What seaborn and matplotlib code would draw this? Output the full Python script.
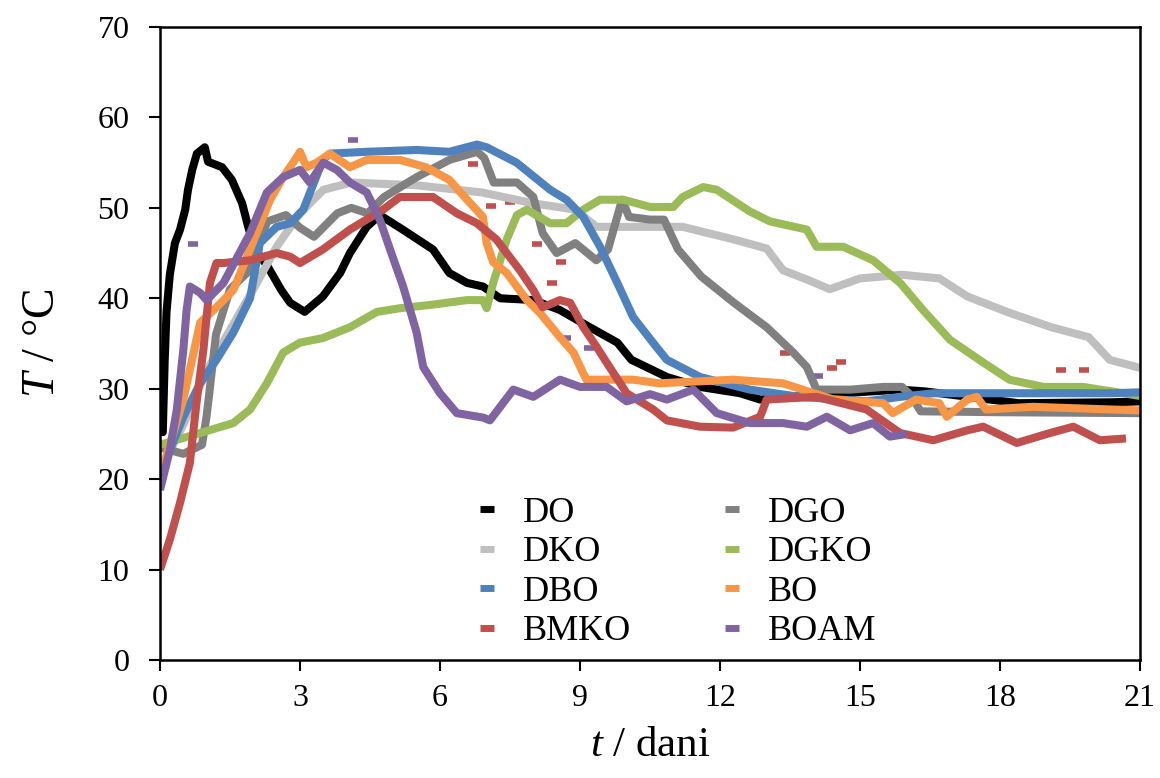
import numpy as np
import pandas as pd
import matplotlib
matplotlib.use("Agg")
import matplotlib.pyplot as plt
from matplotlib.lines import Line2D
import seaborn as sns

# Compost temperature over time, one curve per mixture
do_t = [0.0, 0.06, 0.1, 0.14, 0.21, 0.26, 0.32, 0.43, 0.54, 0.6, 0.69, 0.79, 0.96,
        1.03, 1.33, 1.54, 1.76, 1.89, 2.04, 2.31, 2.6, 2.79, 3.1, 3.49, 3.86, 4.07,
        4.43, 4.71, 5.2, 5.85, 6.2, 6.58, 6.92, 7.29, 8.0, 8.57, 9.21, 9.8, 10.1,
        10.86, 11.57, 12.43, 12.86, 14.0, 15.86, 16.4, 18.4, 20.4, 21.0]
do_T = [25.2, 25.2, 33.0, 38.5, 42.6, 44.2, 46.1, 47.6, 49.8, 52.0, 54.2, 56.0, 56.7,
        55.1, 54.5, 53.1, 50.5, 47.9, 45.4, 43.5, 40.9, 39.5, 38.5, 40.2, 42.8, 45.0,
        47.9, 49.2, 47.6, 45.4, 42.8, 41.7, 41.3, 40.0, 39.8, 38.7, 36.8, 35.1, 33.2,
        31.3, 30.2, 29.5, 28.8, 29.3, 29.9, 29.7, 28.4, 28.5, 28.6]

dgo_t = [0.0, 0.5, 0.9, 1.0, 1.2, 1.5, 1.9, 2.3, 2.7, 3.0, 3.3, 3.8, 4.1, 4.45, 4.8,
         5.5, 6.2, 6.8, 6.95, 7.15, 7.65, 8.0, 8.2, 8.5, 8.9, 9.35, 9.6, 9.9, 10.05,
         10.5, 10.8, 11.1, 11.6, 12.3, 13.0, 13.57, 13.86, 14.07, 14.8, 15.5, 15.9,
         16.1, 16.3, 18.0, 21.0]
dgo_T = [23.5, 22.8, 23.8, 27.0, 36.0, 41.0, 43.0, 48.5, 49.2, 47.8, 46.8, 49.4, 50.0,
         49.4, 51.2, 53.4, 55.3, 56.2, 55.5, 52.8, 52.8, 51.2, 47.2, 45.0, 46.1, 44.2,
         45.4, 50.9, 49.0, 48.7, 48.7, 45.4, 42.4, 39.5, 36.8, 34.0, 32.4, 29.9, 29.9,
         30.2, 30.2, 29.2, 27.5, 27.4, 27.3]

dko_t = [0.0, 0.5, 1.0, 1.5, 2.0, 2.5, 3.0, 3.5, 4.1, 5.5, 6.9, 8.0, 8.9, 9.35, 11.2,
         12.3, 13.0, 13.35, 13.9, 14.35, 15.0, 15.9, 16.7, 17.3, 18.2, 19.1, 19.9,
         20.35, 21.0]
dko_T = [21.0, 26.0, 32.0, 36.5, 41.0, 45.7, 49.4, 52.0, 52.8, 52.5, 51.7, 50.5, 49.8,
         47.9, 47.9, 46.5, 45.5, 43.1, 42.0, 41.0, 42.2, 42.6, 42.2, 40.2, 38.4, 36.8,
         35.7, 33.2, 32.3]

dgko_t = [0.0, 0.86, 1.57, 1.93, 2.29, 2.64, 3.0, 3.49, 4.07, 4.65, 5.14, 5.85, 6.58,
          6.92, 7.0, 7.14, 7.43, 7.65, 7.86, 8.36, 8.71, 9.07, 9.43, 9.93, 10.5, 11.0,
          11.2, 11.64, 11.93, 12.64, 13.07, 13.86, 14.07, 14.64, 15.28, 15.86, 16.35,
          16.93, 17.64, 18.2, 18.93, 19.78, 20.64, 21.0]
dgko_T = [23.8, 25.1, 26.2, 27.7, 30.6, 34.0, 35.1, 35.6, 36.8, 38.5, 38.9, 39.3, 39.8,
          39.8, 38.9, 41.7, 46.5, 49.2, 49.8, 48.3, 48.3, 49.8, 50.9, 50.9, 50.1, 50.1,
          51.2, 52.3, 52.0, 49.6, 48.5, 47.6, 45.7, 45.7, 44.2, 41.7, 38.7, 35.4, 32.9,
          31.0, 30.2, 30.2, 29.5, 29.2]

dbo_t = [0.0, 0.5, 0.86, 1.21, 1.57, 1.93, 2.14, 2.5, 2.79, 3.07, 3.49, 3.64, 4.43,
         5.5, 6.2, 6.79, 7.0, 7.64, 8.36, 8.71, 9.07, 9.43, 9.8, 10.14, 10.64, 10.86,
         11.57, 12.64, 13.7, 15.14, 15.86, 16.57, 20.4, 21.0]
dbo_T = [20.5, 26.9, 30.6, 33.2, 36.2, 40.0, 46.1, 47.9, 48.3, 49.8, 55.3, 56.0, 56.2,
         56.4, 56.2, 57.0, 56.7, 55.0, 52.0, 50.9, 49.0, 45.7, 41.7, 37.9, 34.6, 33.2,
         31.3, 29.9, 29.1, 28.6, 29.1, 29.5, 29.5, 29.6]

bo_t = [0.0, 0.5, 0.86, 1.21, 1.57, 1.93, 2.36, 2.64, 2.93, 3.0, 3.14, 3.36, 3.64,
        4.07, 4.43, 5.14, 5.7, 6.2, 6.58, 6.92, 7.0, 7.14, 7.43, 7.86, 8.14, 8.57, 8.86,
        9.07, 9.14, 10.14, 10.7, 12.28, 13.35, 14.43, 15.5, 15.7, 16.2, 16.7, 16.86,
        17.3, 17.5, 17.7, 18.7, 20.4, 21.0]
bo_T = [20.2, 28.8, 37.3, 39.0, 40.9, 45.4, 50.9, 53.4, 55.6, 56.2, 54.5, 55.0, 56.0,
        54.5, 55.3, 55.3, 54.5, 53.1, 50.9, 49.0, 46.1, 44.0, 42.8, 39.8, 38.4, 35.7,
        34.0, 31.7, 31.0, 31.0, 30.6, 31.0, 30.6, 28.8, 28.4, 27.3, 28.8, 28.4, 26.9,
        28.8, 29.1, 27.7, 28.0, 27.7, 27.6]

bmko_t = [0.0, 0.21, 0.43, 0.64, 0.79, 0.93, 1.07, 1.21, 1.36, 1.93, 2.5, 2.79, 3.0,
          3.49, 4.07, 4.78, 5.14, 5.85, 6.36, 6.79, 7.21, 7.43, 7.71, 8.0, 8.2, 8.57,
          8.79, 9.07, 9.36, 9.57, 10.0, 10.57, 10.86, 11.57, 12.28, 12.86, 13.0, 14.07,
          15.14, 15.86, 16.57, 17.3, 17.64, 18.36, 19.07, 19.57, 20.14, 20.7]
bmko_T = [10.0, 13.3, 17.4, 21.8, 28.8, 34.3, 41.7, 43.9, 43.9, 44.2, 45.0, 44.6, 43.9,
          45.4, 47.6, 49.8, 51.2, 51.2, 49.4, 48.3, 46.5, 45.0, 43.1, 40.9, 39.0, 39.8,
          39.5, 36.8, 34.6, 32.9, 29.5, 27.7, 26.5, 25.8, 25.7, 26.9, 28.8, 29.1, 27.7,
          25.1, 24.3, 25.4, 25.8, 24.0, 25.1, 25.8, 24.3, 24.5]

boam_t = [0.0, 0.21, 0.36, 0.5, 0.57, 0.64, 0.86, 1.0, 1.36, 1.93, 2.29, 2.64, 3.0,
          3.21, 3.5, 3.79, 4.07, 4.43, 4.71, 4.93, 5.21, 5.5, 5.64, 6.0, 6.36, 6.93,
          7.07, 7.57, 8.0, 8.57, 9.0, 9.57, 10.0, 10.5, 10.86, 11.43, 11.93, 12.64,
          13.35, 13.86, 14.29, 14.79, 15.28, 15.64, 16.0]
boam_T = [18.8, 23.2, 27.7, 34.3, 38.7, 41.3, 40.6, 39.8, 41.7, 47.2, 51.7, 53.4, 54.2,
          52.8, 55.0, 54.2, 52.8, 51.7, 48.7, 45.4, 41.3, 36.2, 32.4, 29.5, 27.3, 26.8,
          26.5, 29.9, 29.1, 31.0, 30.2, 30.2, 28.6, 29.4, 28.8, 29.9, 27.3, 26.2, 26.2,
          25.8, 26.9, 25.4, 26.2, 24.7, 25.0]

# Isolated stray readings
stray_red_t = [6.7, 7.1, 7.5, 8.08, 8.4, 8.6, 13.4, 14.4, 14.6, 19.3, 19.8]
stray_red_T = [54.9, 50.2, 50.6, 46.0, 41.7, 44.0, 33.9, 32.3, 33.0, 32.1, 32.1]
stray_purple_t = [0.71, 4.14, 8.7, 9.2, 14.1]
stray_purple_T = [46.0, 57.5, 35.6, 34.5, 31.4]

series = ["DO", "DKO", "DGO", "DGKO", "DBO", "BO", "BMKO", "BOAM"]
times = [do_t, dko_t, dgo_t, dgko_t, dbo_t, bo_t, bmko_t, boam_t]
temps = [do_T, dko_T, dgo_T, dgko_T, dbo_T, bo_T, bmko_T, boam_T]
colors = {"DO": "#000000", "DGO": "#808080", "DKO": "#bfbfbf", "DGKO": "#9bbb59",
          "DBO": "#4f81bd", "BO": "#f79646", "BMKO": "#c0504d", "BOAM": "#8064a2"}

frames = [pd.DataFrame({"t": t, "T": T, "mix": name})
          for name, t, T in zip(series, times, temps)]
df = pd.concat(frames, ignore_index=True)

sns.set_theme(style="white", rc={"text.color": "black", "axes.labelcolor": "black",
                                  "xtick.color": "black", "ytick.color": "black",
                                  "axes.edgecolor": "black"})
plt.rcParams["font.family"] = ["Liberation Serif", "DejaVu Serif"]
plt.rcParams["mathtext.fontset"] = "custom"
plt.rcParams["mathtext.rm"] = "Liberation Serif"
plt.rcParams["mathtext.it"] = "Liberation Serif:italic"

fig = plt.figure(figsize=(11.6, 7.78), dpi=100)
ax = fig.add_axes([160 / 1160, 118 / 778, 980 / 1160, 633 / 778])

for name in series:
    sub = df[df["mix"] == name]
    sns.lineplot(data=sub, x="t", y="T", color=colors[name], linewidth=5.8,
                 sort=False, estimator=None, ax=ax, legend=False,
                 solid_joinstyle="round", solid_capstyle="butt")

sns.scatterplot(x=stray_red_t, y=stray_red_T, color=colors["BMKO"], marker="_",
                s=60, linewidth=4, ax=ax, legend=False)
sns.scatterplot(x=stray_purple_t, y=stray_purple_T, color=colors["BOAM"], marker="_",
                s=60, linewidth=4, ax=ax, legend=False)

ax.set_xlim(0, 21)
ax.set_ylim(0, 70)
ax.set_xticks(np.arange(0, 22, 3))
ax.set_yticks(np.arange(0, 71, 10))
ax.tick_params(axis="both", direction="out", length=8, width=1.5, labelsize=23,
               colors="black", bottom=True, left=True)
ax.tick_params(axis="x", pad=9)
ax.tick_params(axis="y", pad=14)
for sp in ax.spines.values():
    sp.set_visible(True)
    sp.set_color("black")
    sp.set_linewidth(1.8)

ax.set_xlabel(r"$t$ / dani", fontsize=31, labelpad=10)
ax.set_ylabel(r"$T$ / °C", fontsize=33, labelpad=24)

legend_order = ["DO", "DKO", "DBO", "BMKO", "DGO", "DGKO", "BO", "BOAM"]
handles = [Line2D([], [], linestyle="none", marker="_", markersize=10,
                  markeredgewidth=5, color=colors[n]) for n in legend_order]
ax.legend(handles, legend_order, ncol=2, frameon=False, fontsize=26,
          loc="upper left", bbox_to_anchor=(0.315, 0.258), borderpad=0,
          handlelength=1.0, handletextpad=0.5, columnspacing=2.3,
          labelspacing=0.17, borderaxespad=0)

fig.savefig("out.png", dpi=100)
